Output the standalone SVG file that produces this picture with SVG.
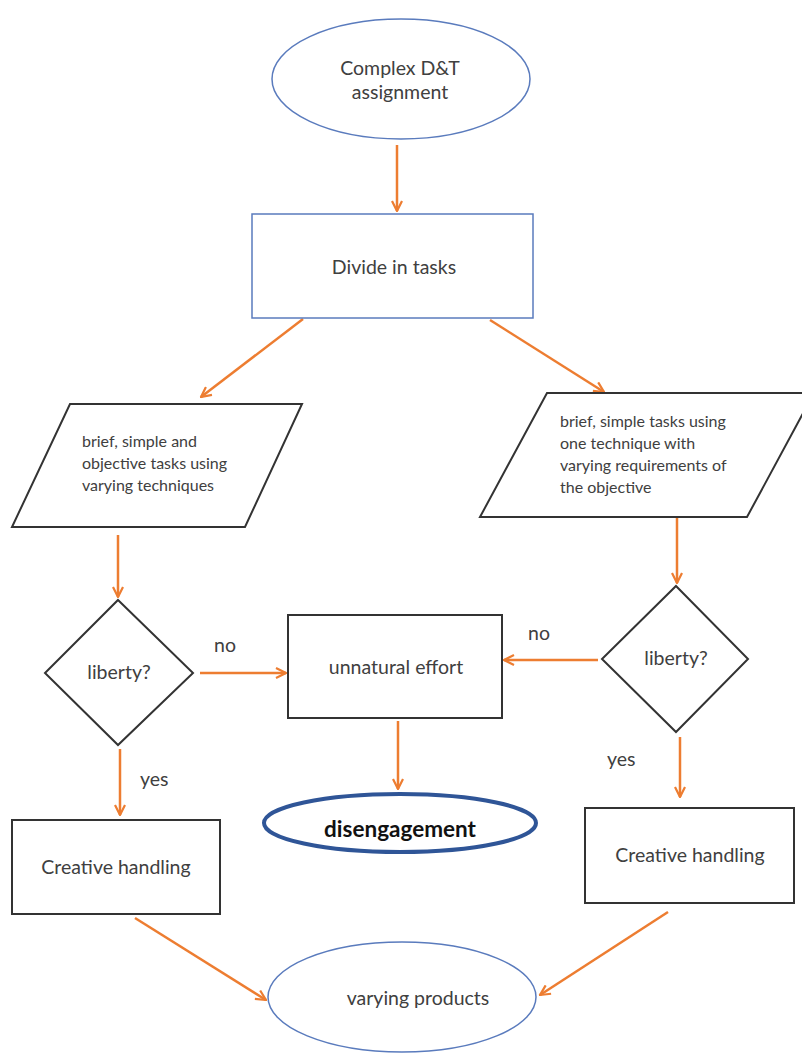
<svg xmlns="http://www.w3.org/2000/svg" width="802" height="1053" viewBox="0 0 802 1053">
<style>
.t{font-family:Lato,"Open Sans","Liberation Sans",sans-serif;fill:#404040;font-size:19.5px}
.s{font-size:16px}
.c{stroke:#ed7d31;stroke-width:2.5;fill:none;marker-end:url(#a)}
.bl{fill:#fff;stroke:#5a7bbd;stroke-width:1.5}
.bk{fill:#fff;stroke:#333;stroke-width:2}
</style>
<defs>
<marker id="a" viewBox="0 0 12 12" refX="11" refY="6" markerWidth="12" markerHeight="12" markerUnits="userSpaceOnUse" orient="auto">
<path d="M1,1 L11,6 L1,11" fill="none" stroke="#ed7d31" stroke-width="2.2"/>
</marker>
</defs>
<rect width="802" height="1053" fill="#fff"/>
<g id="connectors">
<line class="c" x1="397" y1="145" x2="397" y2="211"/>
<line class="c" x1="303" y1="319" x2="201" y2="397"/>
<line class="c" x1="490" y1="320" x2="604" y2="392"/>
<line class="c" x1="118" y1="535" x2="118" y2="597"/>
<line class="c" x1="677" y1="518" x2="677" y2="583"/>
<line class="c" x1="200" y1="673" x2="286" y2="673"/>
<line class="c" x1="598" y1="660" x2="504" y2="660"/>
<line class="c" x1="398" y1="721" x2="398" y2="789"/>
<line class="c" x1="120" y1="749" x2="120" y2="815"/>
<line class="c" x1="680" y1="737" x2="680" y2="797"/>
<line class="c" x1="135" y1="918" x2="266" y2="1000"/>
<line class="c" x1="668" y1="912" x2="540" y2="995"/>
<text class="t" x="214" y="652">no</text>
<text class="t" x="528" y="640">no</text>
<text class="t" x="140" y="786">yes</text>
<text class="t" x="607" y="766">yes</text>
</g>
<g id="start">
<ellipse class="bl" cx="401" cy="79" rx="129" ry="60"/>
<text class="t" x="400" y="75" text-anchor="middle">Complex D&amp;T</text>
<text class="t" x="400" y="99" text-anchor="middle">assignment</text>
</g>
<g id="divide">
<rect class="bl" x="252" y="214" width="281" height="104"/>
<text class="t" x="394" y="274" text-anchor="middle">Divide in tasks</text>
</g>
<g id="left-tasks">
<polygon class="bk" points="70,404 302,404 245,527 12,527" stroke-width="1.8"/>
<text class="t s" x="82" y="447">brief, simple and</text>
<text class="t s" x="82" y="469">objective tasks using</text>
<text class="t s" x="82" y="491">varying techniques</text>
</g>
<g id="right-tasks">
<polygon class="bk" points="547,393 814,393 747,517 480,517" stroke-width="1.8"/>
<text class="t s" x="560" y="427">brief, simple tasks using</text>
<text class="t s" x="560" y="449">one technique with</text>
<text class="t s" x="560" y="471">varying requirements of</text>
<text class="t s" x="560" y="493">the objective</text>
</g>
<g id="left-liberty">
<polygon class="bk" points="118,600 193,673 118,745 45,673" stroke-width="1.8"/>
<text class="t" x="119" y="679" text-anchor="middle">liberty?</text>
</g>
<g id="right-liberty">
<polygon class="bk" points="676,586 748,659 676,732 602,659" stroke-width="1.8"/>
<text class="t" x="676" y="665" text-anchor="middle">liberty?</text>
</g>
<g id="unnatural">
<rect class="bk" x="288" y="615" width="214" height="103" stroke-width="2.5"/>
<text class="t" x="396" y="674" text-anchor="middle">unnatural effort</text>
</g>
<g id="disengagement">
<ellipse cx="400" cy="823" rx="136" ry="29" fill="#fff" stroke="#2f5597" stroke-width="4"/>
<text class="t" x="400" y="837" text-anchor="middle" font-weight="bold" style="font-size:22.5px;fill:#111">disengagement</text>
</g>
<g id="left-creative">
<rect class="bk" x="12" y="820" width="208" height="94" stroke-width="1.5"/>
<text class="t" x="116" y="874" text-anchor="middle">Creative handling</text>
</g>
<g id="right-creative">
<rect class="bk" x="585" y="808" width="209" height="95" stroke-width="1.5"/>
<text class="t" x="690" y="862" text-anchor="middle">Creative handling</text>
</g>
<g id="products">
<ellipse class="bl" cx="402" cy="997" rx="134" ry="55"/>
<text class="t" x="418" y="1005" text-anchor="middle">varying products</text>
</g>
</svg>
